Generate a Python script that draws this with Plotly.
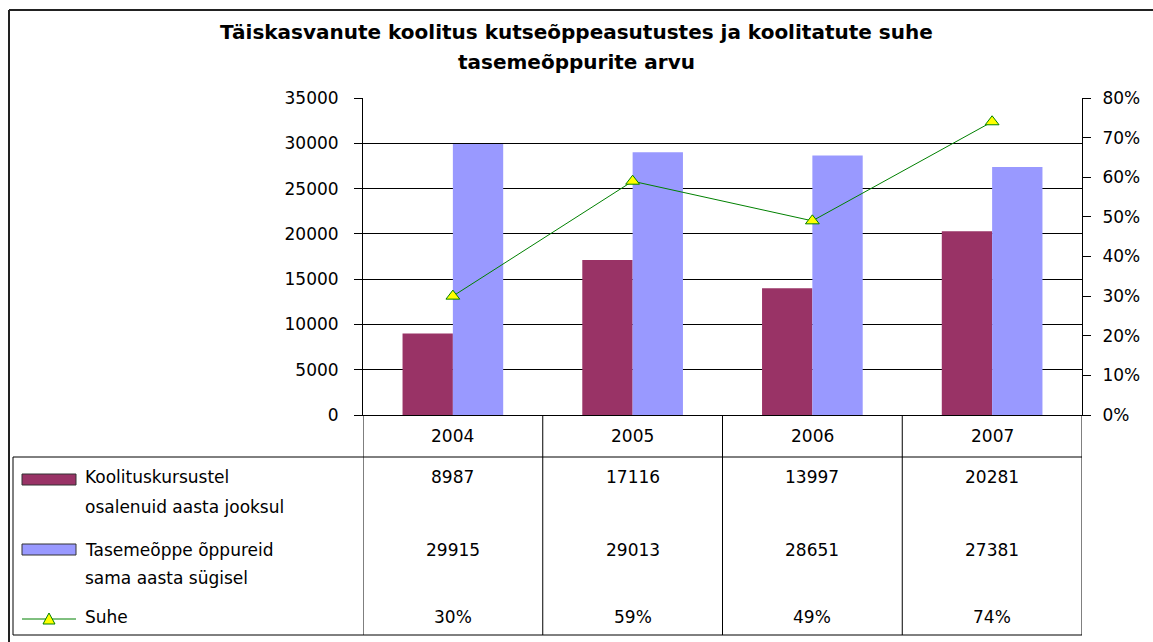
import plotly.graph_objects as go

# ---------------- data ----------------
years = ["2004", "2005", "2006", "2007"]
koolitus = [8987, 17116, 13997, 20281]
tasemeope = [29915, 29013, 28651, 27381]
suhe = [0.30, 0.59, 0.49, 0.74]

title_lines = ["Täiskasvanute koolitus kutseõppeasutustes ja koolitatute suhe",
               "tasemeõppurite arvu"]
series_names = [["Koolituskursustel", "osalenuid aasta jooksul"],
                ["Tasemeõppe õppureid", "sama aasta sügisel"],
                ["Suhe"]]

# ---------------- style ----------------
W, H = 1153, 642
MAROON = "#993366"
BLUE = "#9999FF"
GREEN = "#008000"
YELLOW = "#FFFF00"
FONT = "DejaVu Sans, Verdana, sans-serif"
FS = 17


def px(x):
    return x / W


def py(y):
    return 1 - y / H


PL, PR, PT, PB = 363, 1082, 98, 415  # plot area in pixels

fig = go.Figure()
fig.add_trace(go.Bar(x=years, y=koolitus, name=" ".join(series_names[0]),
                     marker=dict(color=MAROON, line=dict(width=0))))
fig.add_trace(go.Bar(x=years, y=tasemeope, name=" ".join(series_names[1]),
                     marker=dict(color=BLUE, line=dict(width=0))))
fig.add_trace(go.Scatter(x=years, y=suhe, name=series_names[2][0], yaxis="y2",
                         mode="lines+markers",
                         line=dict(color=GREEN, width=1),
                         marker=dict(symbol="triangle-up", size=12, color=YELLOW,
                                     line=dict(color=GREEN, width=1))))

axis_font = dict(family=FONT, size=FS, color="black")

fig.update_layout(
    width=W, height=H, autosize=False,
    margin=dict(l=0, r=0, t=0, b=0, pad=0, autoexpand=False),
    paper_bgcolor="white", plot_bgcolor="white",
    showlegend=False,
    barmode="group", bargap=0.44, bargroupgap=0,
    font=axis_font,
    xaxis=dict(domain=[px(PL), px(PR)], type="category", categoryorder="array",
               categoryarray=years, range=[-0.5, len(years) - 0.5], autorange=False,
               showticklabels=False, ticks="", showline=True, linecolor="black",
               linewidth=1, showgrid=False, zeroline=False, fixedrange=True,
               automargin=False),
    yaxis=dict(domain=[py(PB), py(PT)], range=[0, 35000], autorange=False, dtick=5000,
               tickformat="d", automargin=False,
               showgrid=True, gridcolor="black", gridwidth=1,
               showline=True, linecolor="black", linewidth=1,
               ticks="outside", ticklen=8, tickcolor="black", tickwidth=1,
               ticklabelstandoff=12, tickfont=axis_font, zeroline=False,
               fixedrange=True),
    yaxis2=dict(overlaying="y", side="right", anchor="x", range=[0, 0.8],
                autorange=False, dtick=0.1, automargin=False,
                tickformat=".0%", showgrid=False, zeroline=False,
                showline=True, linecolor="black", linewidth=1,
                ticks="outside", ticklen=8, tickcolor="black", tickwidth=1,
                ticklabelstandoff=8, tickfont=axis_font, fixedrange=True),
    yaxis3=dict(overlaying="y", side="right", anchor="x", range=[0, 0.8],
                autorange=False, dtick=0.1, automargin=False,
                showticklabels=False, showgrid=False, zeroline=False,
                showline=False, ticks="inside", ticklen=8, tickcolor="black",
                tickwidth=1, fixedrange=True),
)

shapes = []
line_style = dict(color="black", width=1)
# outer chart frame
shapes.append(dict(type="line", xref="paper", yref="paper", x0=px(9), x1=px(W + 5),
                   y0=py(10), y1=py(10), line=dict(color="#222", width=2)))
shapes.append(dict(type="line", xref="paper", yref="paper", x0=px(9), x1=px(9),
                   y0=py(10), y1=py(H + 5), line=dict(color="#222", width=2)))
# data table grid
TB_ROW, TB_BOT, TB_LEFT = 457, 635, 13
for i in range(len(years) + 1):
    shapes.append(dict(type="line", xref="x", yref="paper", x0=i - 0.5, x1=i - 0.5,
                       y0=py(PB), y1=py(TB_BOT), line=line_style))
shapes.append(dict(type="line", xref="paper", yref="paper", x0=px(TB_LEFT), x1=px(PR),
                   y0=py(TB_ROW), y1=py(TB_ROW), line=line_style))
shapes.append(dict(type="line", xref="paper", yref="paper", x0=px(TB_LEFT), x1=px(PR),
                   y0=py(TB_BOT), y1=py(TB_BOT), line=line_style))
shapes.append(dict(type="line", xref="paper", yref="paper", x0=px(TB_LEFT), x1=px(TB_LEFT),
                   y0=py(TB_ROW), y1=py(TB_BOT), line=line_style))
# legend keys inside table
KX0, KX1 = 22, 76
shapes.append(dict(type="rect", xref="paper", yref="paper", x0=px(KX0), x1=px(KX1),
                   y0=py(485), y1=py(474), fillcolor=MAROON,
                   line=dict(color="#333", width=1)))
shapes.append(dict(type="rect", xref="paper", yref="paper", x0=px(KX0), x1=px(KX1),
                   y0=py(555), y1=py(544), fillcolor=BLUE,
                   line=dict(color="#333", width=1)))
shapes.append(dict(type="line", xref="paper", yref="paper", x0=px(KX0), x1=px(KX1),
                   y0=py(619), y1=py(619), line=dict(color=GREEN, width=1)))
tri = "M %f,%f L %f,%f L %f,%f Z" % (px(43), py(624), px(55), py(624), px(49), py(613))
shapes.append(dict(type="path", xref="paper", yref="paper", path=tri,
                   fillcolor=YELLOW, line=dict(color=GREEN, width=1)))
fig.update_layout(shapes=shapes)

ann = []
# title
for i, t in enumerate(title_lines):
    ann.append(dict(text="<b>%s</b>" % t, xref="paper", yref="paper", x=px(576),
                    y=py(32 + 30 * i), showarrow=False, xanchor="center",
                    yanchor="middle", font=dict(family=FONT, size=20, color="black")))
# category row
for i, yr in enumerate(years):
    ann.append(dict(text=yr, xref="x", yref="paper", x=i, y=py(436), showarrow=False,
                    xanchor="center", yanchor="middle", font=axis_font))
# value rows
row_y = [477, 550, 617]
row_vals = [[str(v) for v in koolitus], [str(v) for v in tasemeope],
            ["%d%%" % round(v * 100) for v in suhe]]
for r, vals in enumerate(row_vals):
    for i, v in enumerate(vals):
        ann.append(dict(text=v, xref="x", yref="paper", x=i, y=py(row_y[r]),
                        showarrow=False, xanchor="center", yanchor="middle",
                        font=axis_font))
# legend labels
label_y = [[477, 507], [550, 578], [617]]
for names, ys in zip(series_names, label_y):
    for n, yy in zip(names, ys):
        ann.append(dict(text=n, xref="paper", yref="paper", x=px(83), y=py(yy),
                        showarrow=False, xanchor="left", yanchor="middle",
                        font=axis_font))
fig.update_layout(annotations=ann)

post = """
document.body.style.margin='0';
document.body.style.overflow='hidden';
"""
fig.write_html("out.html", post_script=post, config={"displayModeBar": False})
